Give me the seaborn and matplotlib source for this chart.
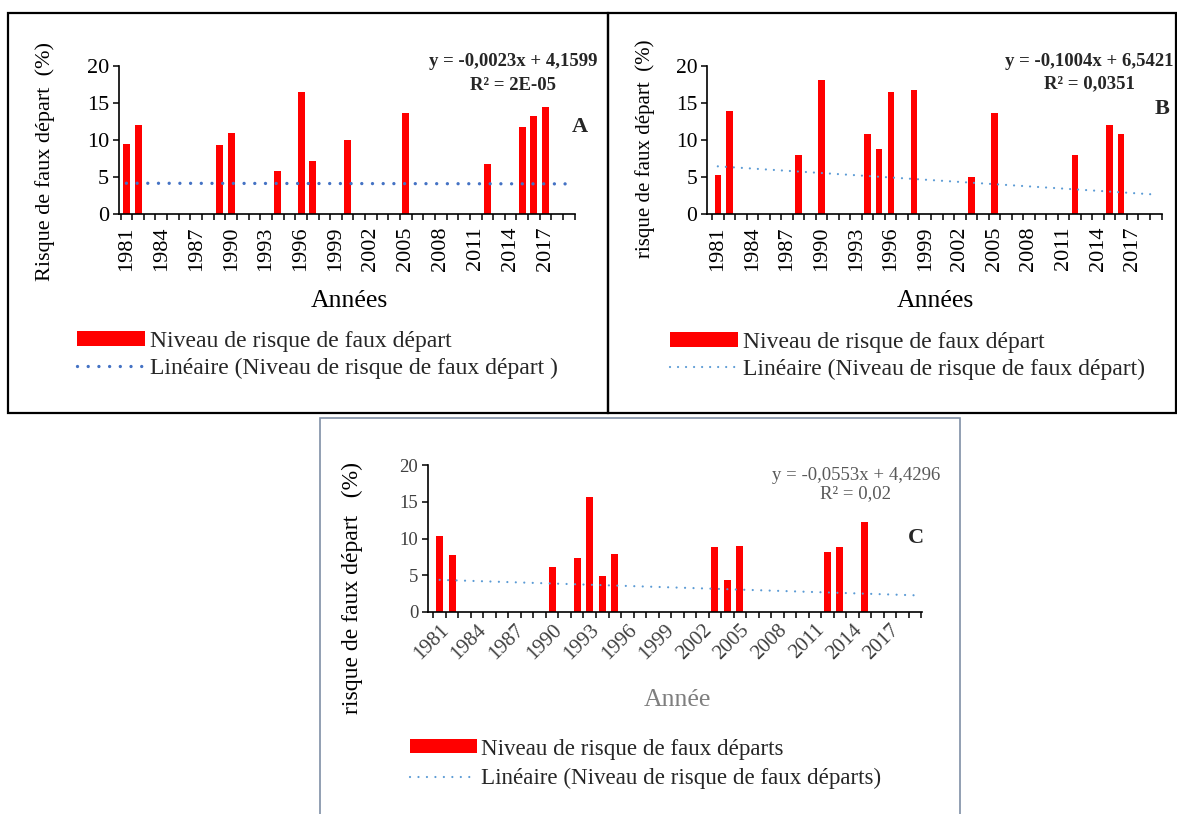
import numpy as np
import pandas as pd
import matplotlib
matplotlib.use("Agg")
import matplotlib.pyplot as plt
import seaborn as sns
from matplotlib.patches import Rectangle, Patch
from matplotlib.lines import Line2D

# ---------------- data ----------------
years = list(range(1981, 2020))
tick_years = list(range(1981, 2018, 3))

years_A = [1981, 1982, 1989, 1990, 1994, 1996, 1997, 2000, 2005, 2012, 2015, 2016, 2017]
vals_A = [9.5, 12.0, 9.3, 11.0, 5.8, 16.5, 7.1, 10.0, 13.7, 6.8, 11.7, 13.2, 14.4]

years_B = [1981, 1982, 1988, 1990, 1994, 1995, 1996, 1998, 2003, 2005, 2012, 2015, 2016]
vals_B = [5.3, 13.9, 8.0, 18.1, 10.8, 8.8, 16.5, 16.7, 4.95, 13.7, 8.0, 12.0, 10.8]

years_C = [1981, 1982, 1990, 1992, 1993, 1994, 1995, 2003, 2004, 2005, 2012, 2013, 2015]
vals_C = [10.3, 7.8, 6.1, 7.3, 15.6, 4.9, 7.95, 8.8, 4.4, 8.95, 8.1, 8.8, 12.2]

# trend equations (slope, intercept) as printed
trend_A = (-0.0023, 4.1599)
trend_B = (-0.1004, 6.5421)
trend_C = (-0.0553, 4.4296)

eq_A = ["y = -0,0023x + 4,1599", "R² = 2E-05"]
eq_B = ["y = -0,1004x + 6,5421", "R² = 0,0351"]
eq_C = ["y = -0,0553x + 4,4296", "R² = 0,02"]

ylab_A = "Risque de faux départ  (%)"
ylab_B = "risque de faux départ  (%)"
ylab_C = "risque de faux départ   (%)"
xlab_AB = "Années"
xlab_C = "Année"
leg_A = ["Niveau de risque de faux départ", "Linéaire (Niveau de risque de faux départ )"]
leg_B = ["Niveau de risque de faux départ", "Linéaire (Niveau de risque de faux départ)"]
leg_C = ["Niveau de risque de faux départs", "Linéaire (Niveau de risque de faux départs)"]

yticks = [0, 5, 10, 15, 20]


def full_series(yrs, vals):
    d = dict(zip(yrs, vals))
    return pd.DataFrame({"year": years, "val": [d.get(y, 0.0) for y in years]})


# ---------------- style ----------------
sns.set_style("white")
plt.rcParams["font.family"] = ["Liberation Serif", "DejaVu Serif"]

W, H = 1177, 814
fig = plt.figure(figsize=(W / 100, H / 100), dpi=100)


def add_ax(l, r, t, b):
    return fig.add_axes([l / W, 1 - b / H, (r - l) / W, (b - t) / H])


def fx(x):
    return x / W


def fy(y):
    return 1 - y / H


def draw_panel(ax, yrs, vals, trend, xlim, tcolor, lw, spacing, bw,
               tick_fs, ytick_fs, rot, tickcol, xlab, xlab_fs, xlabcol,
               xl_pos, ylab, ylab_fs, yl_pos):
    df = full_series(yrs, vals)
    sns.barplot(data=df, x="year", y="val", native_scale=True, color="#FF0000",
                saturation=1, width=bw, errorbar=None, linewidth=0, ax=ax)
    xs = np.arange(1, len(years) + 1)
    tdf = pd.DataFrame({"year": years, "trend": trend[0] * xs + trend[1]})
    sns.lineplot(data=tdf, x="year", y="trend", ax=ax, color=tcolor, lw=lw,
                 linestyle=(0, (0.01, spacing)), dash_capstyle="round")
    ax.set_xlim(*xlim)
    ax.set_ylim(0, 20)
    ax.set_yticks(yticks)
    ax.set_xticks(tick_years)
    ax.set_xticks(np.arange(1980.5, 2020.0, 1.0), minor=True)
    for s in ["top", "right"]:
        ax.spines[s].set_visible(False)
    for s in ["left", "bottom"]:
        ax.spines[s].set_color("black")
        ax.spines[s].set_linewidth(1.2)
    ax.tick_params(axis="y", which="major", direction="out", length=4, width=1.1,
                   color="black", labelsize=ytick_fs, labelcolor=tickcol, pad=3, left=True)
    ax.tick_params(axis="x", which="major", length=0, labelsize=tick_fs,
                   labelcolor=tickcol, pad=9 if rot == 90 else 6, bottom=True)
    ax.tick_params(axis="x", which="minor", direction="out", length=4.5, width=1.1,
                   color="black", bottom=True)
    ax.set_xticklabels([str(y) for y in tick_years])
    for lab in ax.get_xticklabels():
        lab.set_rotation(rot)
        if rot == 90:
            lab.set_ha("center")
            lab.set_va("top")
        else:
            lab.set_ha("right")
            lab.set_va("top")
            lab.set_rotation_mode("anchor")
    ax.set_xlabel(xlab, fontsize=xlab_fs, color=xlabcol)
    ax.xaxis.label.set_va("center")
    ax.xaxis.set_label_coords(*xl_pos)
    ax.set_ylabel(ylab, fontsize=ylab_fs, color="black")
    ax.yaxis.label.set_va("center")
    ax.yaxis.set_label_coords(*yl_pos)
    ax.grid(False)
    ax.set_facecolor("none")


def add_legend(ax, labels, tcolor, lw, spacing, x, y, fs, lsp):
    handles = [Patch(facecolor="#FF0000", edgecolor="none"),
               Line2D([0], [0], color=tcolor, lw=lw, linestyle=(0, (0.01, spacing)),
                      dash_capstyle="round")]
    ax.legend(handles, labels, loc="center left", bbox_to_anchor=(fx(x), fy(y)),
              bbox_transform=fig.transFigure, frameon=False, fontsize=fs,
              handlelength=2.9, handleheight=0.55, handletextpad=0.2,
              borderpad=0, borderaxespad=0, labelspacing=lsp)


# ---------------- panel A ----------------
axA = add_ax(118.8, 574.7, 66, 214)
draw_panel(axA, years_A, vals_A, trend_A, (1980.35, 2019.06), "#4472C4", 2.4, 3.2, 0.6,
           16, 16, 90, "black", xlab_AB, 18.5, "black", (0.505, -0.585),
           ylab_A, 16, (-0.162, 0.358))
add_legend(axA, leg_A, "#4472C4", 2.4, 3.2, 77, 355, 17, 0.25)
fig.text(fx(513), fy(61), eq_A[0], ha="center", va="center", fontsize=13.5, fontweight="bold")
fig.text(fx(513), fy(85), eq_A[1], ha="center", va="center", fontsize=13.5, fontweight="bold")
fig.text(fx(580), fy(127), "A", ha="center", va="center", fontsize=16, fontweight="bold")

# ---------------- panel B ----------------
axB = add_ax(707, 1161.5, 66, 214)
draw_panel(axB, years_B, vals_B, trend_B, (1980.06, 2019.5), "#5B9BD5", 1.6, 3.6, 0.55,
           16, 15.5, 90, "black", xlab_AB, 18.5, "black", (0.502, -0.585),
           ylab_B, 15, (-0.136, 0.44))
add_legend(axB, leg_B, "#5B9BD5", 1.6, 3.6, 670, 356, 17, 0.25)
fig.text(fx(1089), fy(61), eq_B[0], ha="center", va="center", fontsize=13.5, fontweight="bold")
fig.text(fx(1089), fy(84), eq_B[1], ha="center", va="center", fontsize=13.5, fontweight="bold")
fig.text(fx(1162), fy(109), "B", ha="center", va="center", fontsize=16, fontweight="bold")

# ---------------- panel C ----------------
axC = add_ax(428, 922, 465, 612)
draw_panel(axC, years_C, vals_C, trend_C, (1980.07, 2019.56), "#5B9BD5", 1.6, 3.8, 0.56,
           15, 13.5, 45, "#404040", xlab_C, 18.5, "#7F7F7F", (0.504, -0.599),
           ylab_C, 17, (-0.154, 0.163))
add_legend(axC, leg_C, "#5B9BD5", 1.6, 3.8, 410, 764, 16.6, 0.38)
fig.text(fx(856), fy(475), eq_C[0], ha="center", va="center", fontsize=13.5, color="#595959")
fig.text(fx(856), fy(494), eq_C[1], ha="center", va="center", fontsize=13.5, color="#595959")
fig.text(fx(916), fy(538), "C", ha="center", va="center", fontsize=16, fontweight="bold")

# ---------------- frames ----------------
def frame(l, r, t, b, color, lw):
    fig.add_artist(Rectangle((fx(l), fy(b)), fx(r - l), (b - t) / H, transform=fig.transFigure,
                             fill=False, edgecolor=color, linewidth=lw, zorder=10))

frame(8, 608, 13, 413, "black", 1.6)
frame(608, 1176, 13, 413, "black", 1.6)
frame(320, 960, 418, 818, "#7F8FA6", 1.2)

fig.savefig("out.png", dpi=100)
